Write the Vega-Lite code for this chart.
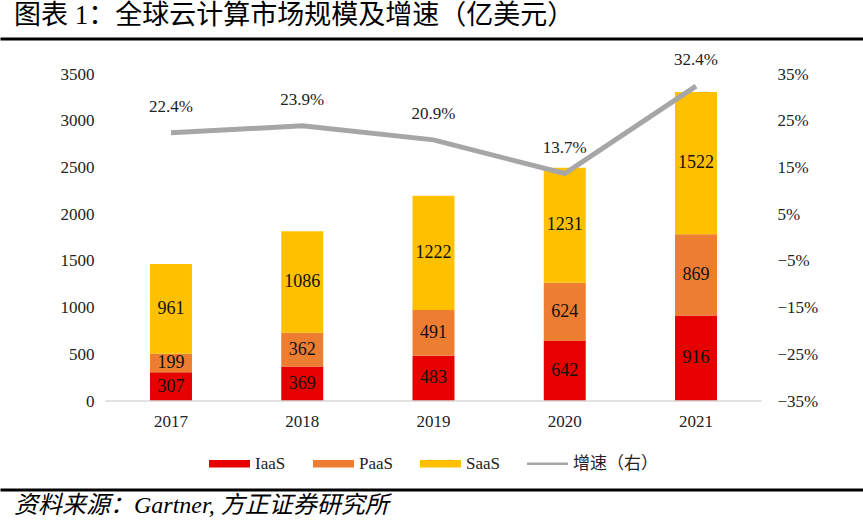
{
  "$schema": "https://vega.github.io/schema/vega-lite/v6.json",
  "padding": 0,
  "background": "white",
  "spacing": 10,
  "config": {
    "font": "Liberation Serif, Noto Sans CJK SC",
    "view": {"stroke": null},
    "legend": {"layout": {"bottom": {"anchor": "middle"}}}
  },
  "resolve": {"scale": {"color": "independent"}, "legend": {"color": "independent"}},
  "datasets": {
    "bars": [
      {"year": "2017", "type": "IaaS", "value": 307, "ord": 1},
      {"year": "2017", "type": "PaaS", "value": 199, "ord": 2},
      {"year": "2017", "type": "SaaS", "value": 961, "ord": 3},
      {"year": "2018", "type": "IaaS", "value": 369, "ord": 1},
      {"year": "2018", "type": "PaaS", "value": 362, "ord": 2},
      {"year": "2018", "type": "SaaS", "value": 1086, "ord": 3},
      {"year": "2019", "type": "IaaS", "value": 483, "ord": 1},
      {"year": "2019", "type": "PaaS", "value": 491, "ord": 2},
      {"year": "2019", "type": "SaaS", "value": 1222, "ord": 3},
      {"year": "2020", "type": "IaaS", "value": 642, "ord": 1},
      {"year": "2020", "type": "PaaS", "value": 624, "ord": 2},
      {"year": "2020", "type": "SaaS", "value": 1231, "ord": 3},
      {"year": "2021", "type": "IaaS", "value": 916, "ord": 1},
      {"year": "2021", "type": "PaaS", "value": 869, "ord": 2},
      {"year": "2021", "type": "SaaS", "value": 1522, "ord": 3}
    ],
    "growth": [
      {"year": "2017", "growth": 0.224},
      {"year": "2018", "growth": 0.239},
      {"year": "2019", "growth": 0.209},
      {"year": "2020", "growth": 0.137},
      {"year": "2021", "growth": 0.324}
    ]
  },
  "vconcat": [
    {
      "width": 863,
      "height": 0.001,
      "view": {"stroke": "black", "strokeWidth": 3},
      "title": {
        "text": "图表 1：全球云计算市场规模及增速（亿美元）",
        "anchor": "start",
        "font": "Liberation Serif, Noto Sans CJK SC",
        "fontSize": 27,
        "fontWeight": "normal",
        "color": "black",
        "offset": 9,
        "dx": 12
      },
      "data": {"values": []},
      "mark": "text",
      "encoding": {}
    },
    {
      "width": 863,
      "height": 327,
      "layer": [
        {
          "data": {"name": "bars"},
          "layer": [
            {
              "mark": {"type": "bar", "width": {"band": 0.556}},
              "encoding": {
                "x": {
                  "field": "year", "type": "nominal",
                  "scale": {"paddingInner": 0.425, "paddingOuter": 1},
                  "axis": {
                    "title": null, "labelAngle": 0, "ticks": false, "domain": false,
                    "labelFontSize": 17, "labelColor": "#222", "labelPadding": 12
                  }
                },
                "y": {
                  "field": "value", "type": "quantitative", "stack": "zero",
                  "scale": {"domain": [0, 3500]},
                  "axis": {
                    "title": null, "values": [0, 500, 1000, 1500, 2000, 2500, 3000, 3500],
                    "format": "d", "offset": -104,
                    "grid": false, "domain": false, "ticks": false,
                    "labelFontSize": 17, "labelColor": "#222", "labelPadding": 12
                  }
                },
                "color": {
                  "field": "type", "type": "nominal",
                  "scale": {
                    "domain": ["IaaS", "PaaS", "SaaS", "增速（右）"],
                    "range": ["#e60000", "#ed7d31", "#ffc000", "#a6a6a6"]
                  },
                  "legend": {
                    "title": null, "orient": "bottom", "direction": "horizontal",
                    "symbolType": "M-1,-0.18H1V0.18H-1Z", "symbolSize": 1681,
                    "labelFontSize": 17, "labelColor": "#222", "labelOffset": 5,
                    "columnPadding": 27, "offset": 8, "padding": 6,
                    "symbolStrokeWidth": 0,
                    "encode": {
                      "symbols": {
                        "update": {
                          "shape": {"signal": "datum.value === '增速（右）' ? 'M-1,-0.065H1V0.065H-1Z' : 'M-1,-0.18H1V0.18H-1Z'"}
                        }
                      }
                    }
                  }
                },
                "order": {"field": "ord", "type": "quantitative"}
              }
            },
            {
              "data": {"values": [{"from": "2017", "to": "2021", "base": 0}]},
              "mark": {"type": "rule", "color": "#d9d9d9", "strokeWidth": 1.5},
              "encoding": {
                "x": {"field": "from", "type": "nominal", "bandPosition": -0.369},
                "x2": {"field": "to", "bandPosition": 1.369},
                "y": {"field": "base", "type": "quantitative"}
              }
            },
            {
              "mark": {"type": "text", "fontSize": 18, "color": "#111", "baseline": "middle"},
              "encoding": {
                "x": {"field": "year", "type": "nominal"},
                "y": {"field": "value", "type": "quantitative", "stack": "zero", "bandPosition": 0.5},
                "detail": {"field": "type"},
                "order": {"field": "ord", "type": "quantitative"},
                "text": {"field": "value", "type": "quantitative"}
              }
            }
          ]
        },
        {
          "data": {"name": "growth"},
          "layer": [
            {
              "mark": {"type": "line", "strokeWidth": 5},
              "encoding": {
                "x": {"field": "year", "type": "nominal"},
                "y": {
                  "field": "growth", "type": "quantitative",
                  "scale": {"domain": [-0.35, 0.35]},
                  "axis": {
                    "orient": "right", "title": null, "offset": -105,
                    "values": [-0.35, -0.25, -0.15, -0.05, 0.05, 0.15, 0.25, 0.35],
                    "format": ".0%", "grid": false, "domain": false, "ticks": false,
                    "labelFontSize": 17, "labelColor": "#222", "labelPadding": 17
                  }
                },
                "color": {"datum": "增速（右）"}
              }
            },
            {
              "mark": {"type": "text", "fontSize": 17, "color": "#222", "baseline": "middle", "dy": -26},
              "encoding": {
                "x": {"field": "year", "type": "nominal"},
                "y": {"field": "growth", "type": "quantitative"},
                "text": {"field": "growth", "type": "quantitative", "format": ".1%"}
              }
            }
          ]
        }
      ],
      "resolve": {"scale": {"y": "independent"}}
    },
    {
      "width": 863,
      "height": 0.001,
      "view": {"stroke": "black", "strokeWidth": 3},
      "title": {
        "text": "资料来源：Gartner, 方正证券研究所",
        "orient": "bottom",
        "anchor": "start",
        "font": "Liberation Serif, Noto Sans CJK SC",
        "fontSize": 24,
        "fontStyle": "italic",
        "fontWeight": "normal",
        "color": "black",
        "offset": 4,
        "dx": 12
      },
      "data": {"values": []},
      "mark": "text",
      "encoding": {}
    }
  ]
}
